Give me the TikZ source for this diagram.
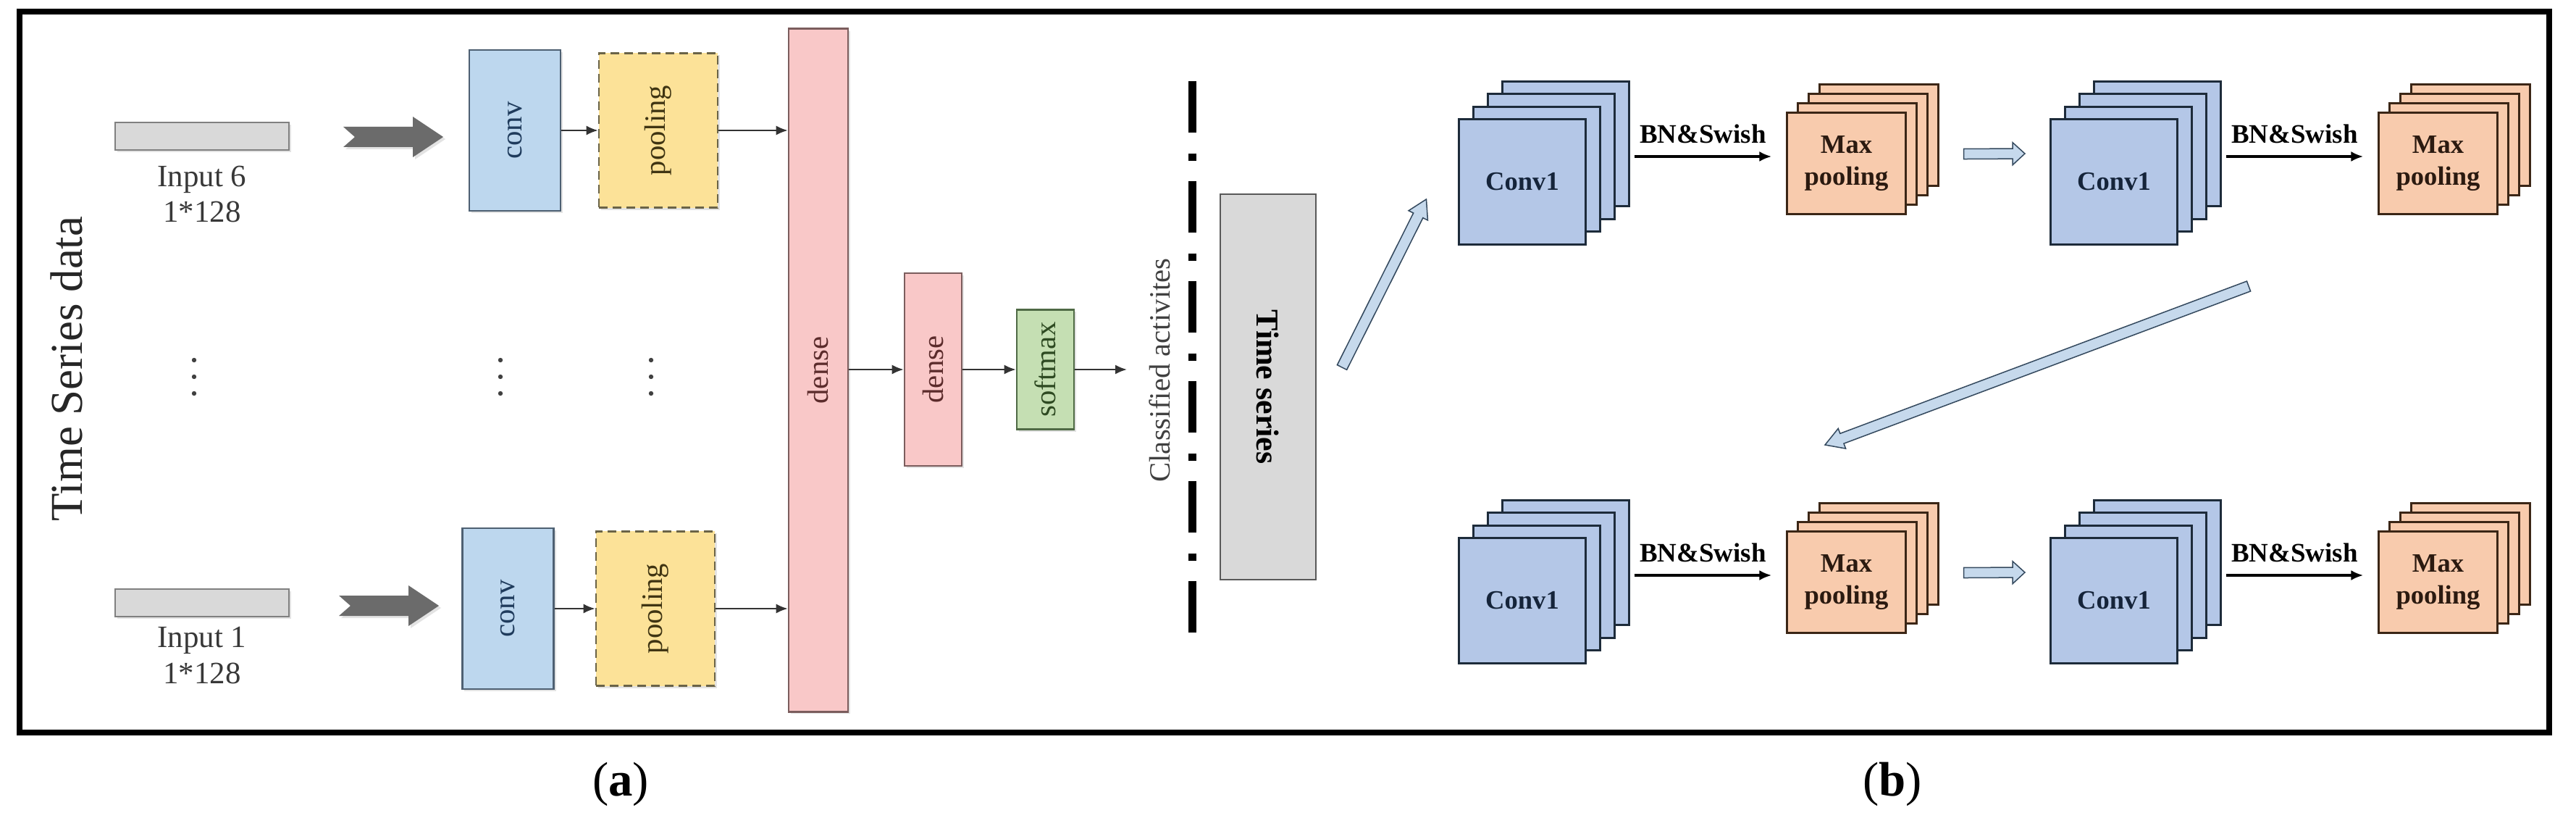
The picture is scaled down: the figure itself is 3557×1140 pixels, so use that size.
\documentclass[tikz,border=0pt]{standalone}
\usepackage{fontspec}
\setmainfont{Liberation Serif}
\usepackage{tikz}
\usetikzlibrary{arrows.meta,positioning,calc,shadows}
\definecolor{convfill}{HTML}{BDD7EE}
\definecolor{convline}{HTML}{4E6072}
\definecolor{convtext}{HTML}{1F3B5C}
\definecolor{poolfill}{HTML}{FCE298}
\definecolor{poolline}{HTML}{6A6347}
\definecolor{pooltext}{HTML}{3F3412}
\definecolor{densefill}{HTML}{F9C8C8}
\definecolor{denseline}{HTML}{7B5D5D}
\definecolor{densetext}{HTML}{5B2B2B}
\definecolor{smfill}{HTML}{C5DFB3}
\definecolor{smline}{HTML}{4F6A45}
\definecolor{smtext}{HTML}{2E4A22}
\definecolor{barfill}{HTML}{D9D9D9}
\definecolor{sheetblue}{HTML}{B4C7E7}
\definecolor{sheetblueline}{HTML}{1D2B3A}
\definecolor{sheetbluetext}{HTML}{15243A}
\definecolor{sheetpeach}{HTML}{F8CBAD}
\definecolor{sheetpeachline}{HTML}{3B2616}
\definecolor{sheetpeachtext}{HTML}{2B1A10}
\definecolor{flexfill}{HTML}{C6D9EC}
\definecolor{flexline}{HTML}{34495E}
\tikzset{
  shad/.style  ={drop shadow={shadow xshift=0.03cm, shadow yshift=-0.03cm, opacity=0.22}},
  blk/.style   ={draw, inner sep=0pt, line width=0.025cm, shad, font=\fontsize{11.6pt}{14pt}\selectfont},
  conv/.style  ={blk, fill=convfill, draw=convline, text=convtext, minimum width=1.26cm, minimum height=2.22cm},
  pool/.style  ={blk, fill=poolfill, draw=poolline, text=pooltext, dash pattern=on 0.12cm off 0.07cm, minimum width=1.64cm, minimum height=2.13cm},
  dns/.style   ={blk, fill=densefill, draw=denseline, text=densetext, minimum width=0.82cm},
  smax/.style  ={blk, fill=smfill, draw=smline, text=smtext, minimum width=0.79cm, minimum height=1.65cm},
  inbar/.style ={draw=black!50, fill=barfill, line width=0.02cm, shad, minimum width=2.4cm, minimum height=0.37cm, inner sep=0pt},
  inlbl/.style ={align=center, text=black!78, font=\fontsize{12.2pt}{14.2pt}\selectfont},
  tsbox/.style ={draw=black!65, fill=barfill, line width=0.02cm, minimum width=1.32cm, minimum height=5.32cm, inner sep=0pt, font=\bfseries\fontsize{12.5pt}{15pt}\selectfont},
  arr/.style   ={-{Latex[length=0.16cm, width=0.13cm]}, line width=0.02cm, draw=black!80},
  bnarr/.style ={-{Latex[length=0.17cm, width=0.14cm]}, line width=0.035cm},
  bnlbl/.style ={above, inner sep=0.16cm, font=\bfseries\fontsize{10.5pt}{12.5pt}\selectfont},
  blockarr/.style={fill=flexfill, draw=flexline, line width=0.015cm},
  chev/.style  ={fill=black!58, shad},
  dashdiv/.style={line width=0.11cm, dash pattern=on 0.71cm off 0.285cm on 0.1cm off 0.285cm},
  frame/.style ={line width=0.08cm},
  sheet/.style ={draw, line width=0.03cm, inner sep=0pt, align=center, font=\bfseries\fontsize{10.4pt}{12.5pt}\selectfont},
  csheet/.style={sheet, fill=sheetblue, draw=sheetblueline, text=sheetbluetext, minimum width=1.74cm, minimum height=1.72cm},
  psheet/.style={sheet, fill=sheetpeach, draw=sheetpeachline, text=sheetpeachtext, minimum width=1.63cm, minimum height=1.39cm},
  sublbl/.style={font=\fontsize{19pt}{22pt}\selectfont},
}
% notched grey arrow, #1 = centre of its tail
\newcommand{\chevron}[1]{%
  \fill[chev] ($(#1)+(16,0)$) -- ++(-16,-14) -- ++(96,0) -- ++(0,-14) -- ++(42,28)
    -- ++(-42,28) -- ++(0,-14) -- ++(-96,0) -- cycle;}
% hollow block arrow: from, to, half body, half head, head length (pt)
\newcommand{\blockarrow}[5]{%
  \draw[blockarr] let \p1=(#1), \p2=(#2),
      \n1={veclen(\x2-\x1,\y2-\y1)},
      \n2={(\x2-\x1)/\n1}, \n3={(\y2-\y1)/\n1},
      \n4={\n1-#5} in
    ({\x1-(\n3)*#3},{\y1+(\n2)*#3})
    -- ({\x1+(\n2)*\n4-(\n3)*#3},{\y1+(\n3)*\n4+(\n2)*#3})
    -- ({\x1+(\n2)*\n4-(\n3)*#4},{\y1+(\n3)*\n4+(\n2)*#4})
    -- (\p2)
    -- ({\x1+(\n2)*\n4+(\n3)*#4},{\y1+(\n3)*\n4-(\n2)*#4})
    -- ({\x1+(\n2)*\n4+(\n3)*#3},{\y1+(\n3)*\n4-(\n2)*#3})
    -- ({\x1+(\n3)*#3},{\y1-(\n2)*#3}) -- cycle;}
\begin{document}
\begin{tikzpicture}[x=0.01cm, y=-0.01cm]
  \useasboundingbox (0,0) rectangle (3557,1140);
  \draw[frame] (27,16) rectangle (3520,1011);

  % (a)
  \node[rotate=90, text=black!85, font=\fontsize{17.9pt}{21pt}\selectfont] (tsd) at (92,509) {Time Series data};
  \node[inbar] (in6) at (279,188) {};
  \node[inlbl] (l6) at (279,268) {Input 6\\1*128};
  \node[inbar] (in1) at (279,832) {};
  \node[inlbl] (l1) at (279,905) {Input 1\\1*128};
  \coordinate (g6) at (474,189);
  \coordinate (g1) at (468,836);
  \chevron{g6}
  \chevron{g1}
  \node[conv] (cv6) at (711,180) {\rotatebox{90}{conv}};
  \node[pool] (pl6) at (909,180) {\rotatebox{90}{pooling}};
  \node[conv] (cv1) at (701.5,840) {\rotatebox{90}{conv}};
  \node[pool] (pl1) at (905,840) {\rotatebox{90}{pooling}};
  \foreach \xd in {268,691,899}
    \foreach \k in {0,1,2}
      \fill[black!75] (\xd,497+23*\k) circle (0.032cm);
  \node[dns, minimum height=9.42cm] (dn1) at (1130,511) {\rotatebox{90}{dense}};
  \node[dns, minimum width=0.79cm, minimum height=2.66cm] (dn2) at (1288.5,510) {\rotatebox{90}{dense}};
  \node[smax] (sm) at (1443.5,510) {\rotatebox{90}{softmax}};
  \coordinate (cls) at (1556,510);
  \draw[arr] (cv6) -- (pl6);
  \draw[arr] (pl6) -- (pl6 -| dn1.west);
  \draw[arr] (cv1) -- (pl1);
  \draw[arr] (pl1) -- (pl1 -| dn1.west);
  \draw[arr] (dn1.east |- dn2.west) -- (dn2.west);
  \draw[arr] (dn2) -- (sm);
  \draw[arr] (sm) -- (cls);
  \node[rotate=90, text=black!75, font=\fontsize{11.6pt}{14pt}\selectfont] (cl) at (1601,511) {Classified activites};
  \coordinate (dv1) at (1646,112);
  \coordinate (dv2) at (1646,873);
  \draw[dashdiv] (dv1) -- (dv2);
  \node[tsbox] (ts) at (1751,534) {\rotatebox{-90}{Time series}};
  \node[sublbl] (la) at (857,1082) {(\textbf{a})};

  % (b)
  \foreach \rr/\yy in {1/0,2/578}{
    \foreach \cc/\xx in {1/0,2/817}{
      \foreach \k in {3,2,1}
        \node[csheet] at (2102+\xx+20*\k, 251+\yy-17.5*\k) {};
      \node[csheet] (cv\rr\cc) at (2102+\xx, 251+\yy) {Conv1};
      \foreach \k in {3,2,1}
        \node[psheet] at (2549.5+\xx+15*\k, 225.5+\yy-13*\k) {};
      \node[psheet] (mp\rr\cc) at (2549.5+\xx, 225.5+\yy) {Max\\pooling};
      \draw[bnarr] ($(cv\rr\cc.east)+(66,-35)$) -- node[bnlbl] {BN\&Swish} ($(mp\rr\cc.west)+(-20,-9.5)$);
    }
    \coordinate (ha\rr) at ($(mp\rr1.east)+(79,-13)$);
    \coordinate (hb\rr) at ($(cv\rr2.west)+(-34.5,-39)$);
    \blockarrow{ha\rr}{hb\rr}{2}{4.4}{4.8}
  }
  \coordinate (ua) at ($(ts.east)+(35,-27)$);
  \coordinate (ub) at ($(cv11.west)+(-44,24)$);
  \blockarrow{ua}{ub}{2.1}{4.2}{7.1}
  \coordinate (da) at (3105,395);
  \coordinate (db) at (2520,614);
  \blockarrow{da}{db}{2.1}{4.2}{7.1}
  \node[sublbl] (lb) at (2613,1082) {(\textbf{b})};
\end{tikzpicture}
\end{document}
